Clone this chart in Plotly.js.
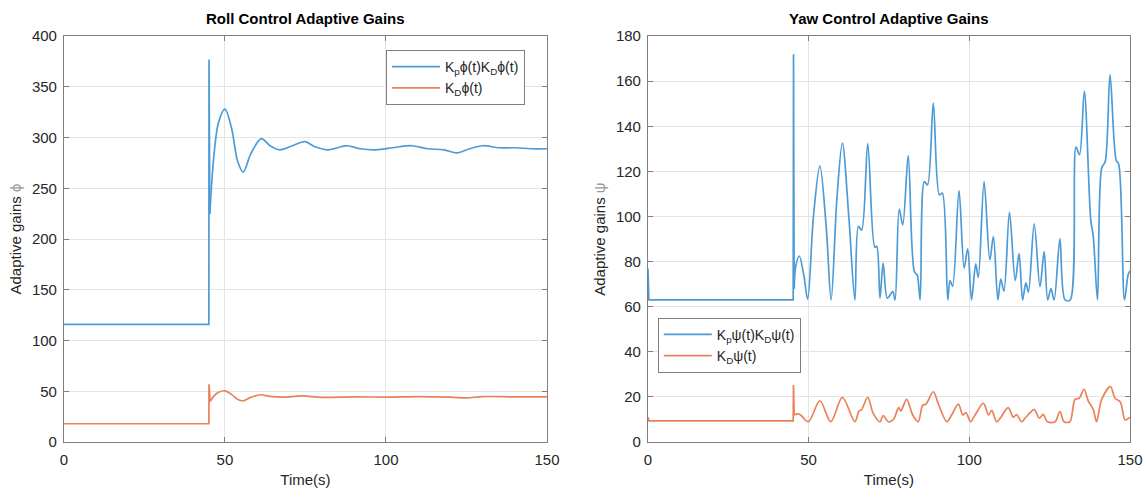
<!DOCTYPE html>
<html>
<head>
<meta charset="utf-8">
<script src="https://cdn.plot.ly/plotly-3.0.1.min.js"></script>
<style>html,body{margin:0;padding:0;background:#fff;}#chart{width:1146px;height:495px;}</style>
</head>
<body>
<div id="chart"></div>
<script>
// ---- Roll control (left panel) ----
const rollKpTime = [0, 45, 45.05, 45.3, 46.5, 48, 50, 52, 54, 55.7, 58, 61.3, 64, 67, 71, 74.8, 78, 82, 88, 92, 97, 102, 108, 113, 118, 122, 126, 130, 135, 140, 145, 150];
const rollKpVals = [116, 116, 377, 225, 280, 315, 328, 310, 276, 266, 284, 299, 292, 288, 292, 296, 291, 288, 292, 289, 288, 290, 292, 289, 288, 285, 289, 292, 290, 290, 289, 289];
const rollKdTime = [0, 45, 45.05, 45.4, 46.5, 48, 50, 52, 54, 55.6, 58, 61, 64, 68, 74, 80, 90, 100, 110, 120, 125, 130, 140, 150];
const rollKdVals = [18, 18, 57, 40, 45, 49, 50.5, 47, 42, 40.7, 44, 46.6, 45, 44.2, 45.5, 44, 44.5, 44.3, 44.8, 44.2, 43.5, 44.8, 44.5, 44.5];

// ---- Yaw control (right panel) ----
const yawKpTime = [0, 0.3, 45.2, 45.3, 45.5, 46, 47.1, 48.5, 49.7, 51.5, 53.5, 55.5, 57, 58.8, 60.5, 62.5, 64.4, 65.5, 66.5, 68.4, 70.6, 71.2, 72.2, 73.2, 74.5, 76.2, 76.9, 78.2, 79.3, 81.0, 82.9, 83.8, 84.7, 86.0, 87.0, 88.8, 90.7, 91.6, 93.3, 94.0, 94.8, 96.8, 98.4, 99.5, 100.7, 102.0, 102.8, 104.6, 106.4, 107.5, 108.9, 109.8, 110.8, 112.5, 114.3, 115.5, 116.6, 117.6, 118.4, 120.2, 122.0, 123.3, 124.4, 125.4, 126.4, 128.2, 129.8, 131.4, 133.2, 134.3, 135.8, 137.8, 138.6, 139.9, 141.2, 142.3, 143.8, 145.7, 146.5, 148.3, 149.4, 150];
const yawKpVals = [77, 63, 63, 172, 68, 78, 82.5, 74, 63.3, 100, 122.5, 95, 63, 108, 132.6, 100, 63, 95.6, 94, 132.3, 86.4, 86.8, 63.8, 79.3, 63.8, 66.7, 63, 103.3, 96.3, 127, 75.6, 74, 63, 115.5, 114, 150.3, 109.6, 110.4, 63, 71.6, 69, 111.5, 77.1, 85.7, 63, 79, 73, 115.5, 80.8, 91.1, 63, 72.3, 66.9, 101.8, 71.6, 83.7, 63, 70.6, 66.5, 96.8, 68.9, 84.5, 63, 68, 63, 90.1, 63, 63, 130.8, 127.4, 155.5, 98.5, 91, 63, 121.5, 124.4, 162.9, 125, 123.2, 63, 74, 76];
const yawKdTime = [0, 0.3, 45.2, 45.3, 45.5, 47.1, 49.9, 53.5, 56.9, 60.5, 64.4, 65.7, 66.5, 68.4, 70.1, 72.2, 73.2, 74.8, 76.4, 78, 78.7, 80.5, 82.4, 84.1, 85.5, 86.5, 88.8, 90.4, 93, 94.5, 96.6, 98, 99, 100.4, 101.8, 104.4, 106, 107, 108.5, 109.8, 112.1, 113.7, 114.7, 116.3, 117.6, 120.2, 121.8, 123, 124.3, 126.7, 128.2, 129.5, 131.3, 132.9, 134.2, 135.7, 137, 138.6, 139.6, 141.2, 143.9, 145.4, 147, 148.5, 150];
const yawKdVals = [11, 9.4, 9.4, 25.3, 12, 12.4, 9, 18.3, 9, 19.8, 9, 13.8, 14.4, 19.8, 12.7, 9, 11.7, 9, 10, 15.3, 13.8, 18.9, 12, 9, 16.4, 16.8, 22.3, 16.8, 9, 12, 16.8, 12, 13, 9, 12, 17.2, 12, 14, 9, 10.9, 15.3, 11, 12.2, 9, 11, 14.4, 10.6, 12.3, 9, 9, 13.5, 9, 9, 18.9, 19.4, 23.4, 18.3, 14.4, 9, 18.9, 24.6, 19.4, 17.8, 9.8, 11];

const xTicks = [0, 50, 100, 150];
const rollYTicks = [0, 50, 100, 150, 200, 250, 300, 350, 400];
const yawYTicks = [0, 20, 40, 60, 80, 100, 120, 140, 160, 180];

const blue = '#4d9bd6';
const orange = '#ea8158';

// Each series: the flat start + switch-on spike is drawn straight, the oscillating rest smoothed.
function seriesTraces(t, v, splitIdx, color, name, legend, xa, ya) {
  return [
    {x: t.slice(0, splitIdx + 1), y: v.slice(0, splitIdx + 1), xaxis: xa, yaxis: ya, mode: 'lines',
     line: {color: color, width: 1.7, shape: 'linear'}, showlegend: false, legend: legend, hoverinfo: 'skip'},
    {x: t.slice(splitIdx), y: v.slice(splitIdx), xaxis: xa, yaxis: ya, mode: 'lines',
     line: {color: color, width: 1.7, shape: 'spline', smoothing: 0.9}, name: name, legend: legend}
  ];
}

const traces = [].concat(
  seriesTraces(rollKpTime, rollKpVals, 3, blue, 'K<sub>p</sub>ϕ(t)K<sub>D</sub>ϕ(t)', 'legend', 'x', 'y'),
  seriesTraces(rollKdTime, rollKdVals, 3, orange, 'K<sub>D</sub>ϕ(t)', 'legend', 'x', 'y'),
  seriesTraces(yawKpTime, yawKpVals, 4, blue, 'K<sub>p</sub>ψ(t)K<sub>D</sub>ψ(t)', 'legend2', 'x2', 'y2'),
  seriesTraces(yawKdTime, yawKdVals, 4, orange, 'K<sub>D</sub>ψ(t)', 'legend2', 'x2', 'y2')
);

const fontFam = 'Liberation Sans, Arial, sans-serif';
const axisBase = {
  showgrid: true, gridcolor: '#e4e4e4', gridwidth: 1,
  showline: true, linecolor: '#7f7f7f', linewidth: 1, mirror: 'ticks',
  ticks: 'inside', ticklen: 5, tickcolor: '#7f7f7f',
  zeroline: false, tickfont: {size: 15, color: '#262626', family: fontFam},
  automargin: false, fixedrange: true
};
const xExtra = {ticklabelstandoff: 4};
const yExtra = {ticklabelstandoff: 3};

const layout = {
  width: 1146, height: 495,
  margin: {l: 0, r: 0, t: 0, b: 0},
  paper_bgcolor: '#ffffff', plot_bgcolor: '#ffffff',
  font: {family: fontFam, color: '#262626'},
  xaxis: Object.assign({}, axisBase, xExtra, {domain: [0.0558, 0.4773], range: [0, 150], tickvals: xTicks, anchor: 'y',
    title: {text: 'Time(s)', font: {size: 15, color: '#262626'}, standoff: 7}}),
  yaxis: Object.assign({}, axisBase, yExtra, {domain: [0.107, 0.927], range: [0, 400], tickvals: rollYTicks, anchor: 'x',
    title: {text: 'Adaptive gains <span style="color:#9a9a9a">ϕ</span>', font: {size: 15, color: '#262626'}, standoff: 6}}),
  xaxis2: Object.assign({}, axisBase, xExtra, {domain: [0.5654, 0.986], range: [0, 150], tickvals: xTicks, anchor: 'y2',
    title: {text: 'Time(s)', font: {size: 15, color: '#262626'}, standoff: 7}}),
  yaxis2: Object.assign({}, axisBase, yExtra, {domain: [0.107, 0.927], range: [0, 180], tickvals: yawYTicks, anchor: 'x2',
    title: {text: 'Adaptive gains <span style="color:#9a9a9a">ψ</span>', font: {size: 15, color: '#262626'}, standoff: 6}}),
  legend: {x: 0.3368, y: 0.899, xanchor: 'left', yanchor: 'top', bgcolor: '#ffffff',
    bordercolor: '#7f7f7f', borderwidth: 1, font: {size: 14, color: '#262626'}, itemwidth: 48, tracegroupgap: 0},
  legend2: {x: 0.574, y: 0.358, xanchor: 'left', yanchor: 'top', bgcolor: '#ffffff',
    bordercolor: '#7f7f7f', borderwidth: 1, font: {size: 14, color: '#262626'}, itemwidth: 48, tracegroupgap: 0},
  showlegend: true,
  annotations: [
    {text: '<b>Roll Control Adaptive Gains</b>', x: 0.2665, y: 0.962, xref: 'paper', yref: 'paper',
     xanchor: 'center', yanchor: 'middle', showarrow: false, font: {size: 15, color: '#000000'}},
    {text: '<b>Yaw Control Adaptive Gains</b>', x: 0.7757, y: 0.962, xref: 'paper', yref: 'paper',
     xanchor: 'center', yanchor: 'middle', showarrow: false, font: {size: 15, color: '#000000'}}
  ]
};

Plotly.newPlot('chart', traces, layout, {staticPlot: true, displayModeBar: false});
</script>
</body>
</html>
